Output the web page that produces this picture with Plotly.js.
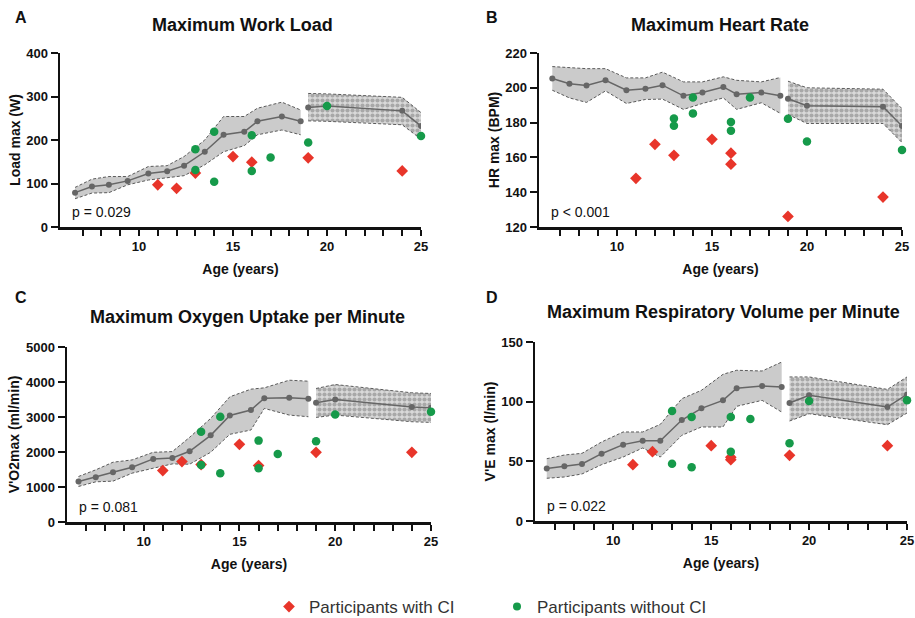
<!DOCTYPE html>
<html>
<head>
<meta charset="utf-8">
<script src="https://cdn.plot.ly/plotly-3.0.1.min.js"></script>
<style>html,body{margin:0;padding:0;background:#fff;}#chart{width:915px;height:618px;}</style>
</head>
<body>
<div id="chart"></div>
<script>
// Reference ages (gray curve)
const ages1 = [6.6, 7.5, 8.4, 9.4, 10.5, 11.5, 12.4, 13.5, 14.5, 15.6, 16.3, 17.6, 18.6];
const ages2 = [19, 20, 24, 25];

// Panel A: Maximum Work Load
const aMean1 = [79, 93, 97, 106, 123, 128, 141, 173, 212, 219, 243, 254, 243];
const aHi1   = [91, 110, 116, 116, 139, 141, 162, 200, 254, 254, 273, 287, 269];
const aLo1   = [65, 78, 79, 97, 108, 114, 118, 143, 173, 187, 212, 223, 212];
const aMean2 = [275, 278, 267, 232];
const aHi2   = [307, 306, 298, 263];
const aLo2   = [244, 243, 235, 202];
const aRedX = [11, 12, 13, 15, 16, 19, 24];
const aRedY = [97, 89, 124, 162, 149, 159, 129];
const aGreenX = [13, 13, 14, 14, 16, 16, 17, 19, 20, 25];
const aGreenY = [179, 131, 219, 104, 211, 129, 160, 194, 278, 209];

// Panel B: Maximum Heart Rate
const bMean1 = [205.3, 202.3, 201.3, 204.3, 198.6, 199.4, 201.5, 195.4, 197.3, 200.5, 196.3, 197.3, 195.4];
const bHi1   = [212.2, 211.4, 211, 211, 205.7, 205.7, 209, 203.4, 203.4, 206.3, 204.3, 203.4, 205.9];
const bLo1   = [198.6, 194.2, 191.6, 198.2, 191, 193.3, 193.5, 187.6, 191, 194.2, 187.6, 191.4, 185.3];
const bMean2 = [193.7, 189.7, 189.1, 178];
const bHi2   = [203.8, 200, 199.2, 188];
const bLo2   = [184.7, 179.5, 179.5, 168.5];
const bRedX = [11, 12, 13, 15, 16, 16, 19, 24];
const bRedY = [148, 167.5, 161.2, 170.4, 162.4, 156.1, 126.1, 137.2];
const bGreenX = [13, 13, 14, 14, 16, 16, 17, 19, 20, 25];
const bGreenY = [182.4, 178.2, 194.4, 185.3, 180.3, 175.3, 194.4, 182.2, 169.2, 164.3];

// Panel C: Maximum Oxygen Uptake per Minute
const cMean1 = [1157, 1281, 1423, 1565, 1803, 1831, 2021, 2476, 3045, 3197, 3539, 3548, 3520];
const cHi1   = [1300, 1490, 1708, 1774, 1992, 2011, 2419, 2960, 3577, 3795, 3833, 4051, 4023];
const cLo1   = [1015, 1148, 1167, 1395, 1537, 1660, 1651, 1992, 2505, 2628, 3245, 3055, 3008];
const cMean2 = [3406, 3501, 3283, 3264];
const cHi2   = [3814, 3928, 3691, 3672];
const cLo2   = [2989, 3055, 2865, 2846];
const cRedX = [11, 12, 13, 15, 16, 19, 24];
const cRedY = [1470, 1727, 1640, 2220, 1613, 1992, 1992];
const cGreenX = [13, 13, 14, 14, 16, 16, 17, 19, 20, 25];
const cGreenY = [2581, 1632, 3008, 1395, 2325, 1537, 1945, 2306, 3074, 3150];

// Panel D: Maximum Respiratory Volume per Minute
const dMean1 = [43.9, 45.8, 47.8, 56.4, 64, 67.3, 67.3, 84.6, 94.4, 101.1, 111.2, 113.1, 112.3];
const dHi1   = [52.2, 55.3, 56.7, 66.2, 74.6, 74.6, 81, 102.5, 109.5, 122.9, 126.3, 125.7, 133.2];
const dLo1   = [35.8, 36.9, 39.4, 47.2, 53.6, 61.2, 53.6, 71.8, 78.8, 78.8, 96.1, 101.1, 91.3];
const dMean2 = [98.9, 105.3, 95.5, 106.1];
const dHi2   = [120.7, 120.7, 110.3, 120.7];
const dLo2   = [83.8, 89.9, 80.7, 90.5];
const dRedX = [11, 12, 15, 16, 16, 19, 24];
const dRedY = [47.2, 58.1, 63.1, 51.4, 53.4, 55, 63.1];
const dGreenX = [13, 13, 14, 14, 16, 16, 17, 19, 20, 25];
const dGreenY = [92.2, 48, 87.2, 45, 87.2, 58.1, 85.5, 65.1, 100.6, 101.1];

const titles = ['Maximum Work Load', 'Maximum Heart Rate', 'Maximum Oxygen Uptake per Minute', 'Maximum Respiratory Volume per Minute'];
const yTitles = ['Load max (W)', 'HR max (BPM)', "V'O2max (ml/min)", "V'E max (l/min)"];
const pTexts = ['p = 0.029', 'p < 0.001', 'p = 0.081', 'p = 0.022'];
const letters = ['A', 'B', 'C', 'D'];
const legendNames = ['Participants with CI', 'Participants without CI'];
const yRanges = [[0, 400], [120, 220], [0, 5000], [0, 150]];
const yDticks = [100, 20, 1000, 50];
const xTickVals = [10, 15, 20, 25];
const xMinorVals = [7, 8, 9, 11, 12, 13, 14, 16, 17, 18, 19, 21, 22, 23, 24];

const panels = [
  {m1: aMean1, h1: aHi1, l1: aLo1, m2: aMean2, h2: aHi2, l2: aLo2, rx: aRedX, ry: aRedY, gx: aGreenX, gy: aGreenY},
  {m1: bMean1, h1: bHi1, l1: bLo1, m2: bMean2, h2: bHi2, l2: bLo2, rx: bRedX, ry: bRedY, gx: bGreenX, gy: bGreenY},
  {m1: cMean1, h1: cHi1, l1: cLo1, m2: cMean2, h2: cHi2, l2: cLo2, rx: cRedX, ry: cRedY, gx: cGreenX, gy: cGreenY},
  {m1: dMean1, h1: dHi1, l1: dLo1, m2: dMean2, h2: dHi2, l2: dLo2, rx: dRedX, ry: dRedY, gx: dGreenX, gy: dGreenY}
];

// layout geometry (pixels)
const W = 915, H = 618;
const boxes = [
  {x0: 60, x1: 421, y0: 53, y1: 227, xl: 5.8},
  {x0: 539, x1: 902, y0: 53, y1: 227, xl: 5.9},
  {x0: 67, x1: 431, y0: 347, y1: 522, xl: 6.0},
  {x0: 535, x1: 907, y0: 342, y1: 521, xl: 6.0}
];
const titlePos = [{x: 242, y: 25}, {x: 720, y: 25}, {x: 248, y: 317}, {x: 723, y: 312}];
const letterPos = [{x: 21, y: 18}, {x: 492, y: 18}, {x: 21, y: 298}, {x: 492, y: 298}];

const FONT = 'Liberation Sans, Arial, Helvetica, sans-serif';
const RED = '#e8352a', GREEN = '#169a4a', GRAYL = '#666666';
const DASH = '3px,2px';

const traces = [];
const layout = {
  width: W, height: H, margin: {l: 0, r: 0, t: 0, b: 0, autoexpand: false},
  paper_bgcolor: '#ffffff', plot_bgcolor: 'rgba(0,0,0,0)',
  font: {family: FONT, color: '#111'},
  showlegend: true,
  legend: {orientation: 'h', x: 269 / W, y: 1 - 607 / H, xanchor: 'left', yanchor: 'middle', traceorder: 'normal',
           font: {family: FONT, size: 17, color: '#333'}, itemwidth: 30, tracegroupgap: 0,
           entrywidth: 183, entrywidthmode: 'pixels', bgcolor: 'rgba(0,0,0,0)'},
  annotations: [], shapes: []
};

panels.forEach((p, i) => {
  const n = i + 1;
  const xa = 'x' + (n === 1 ? '' : n), ya = 'y' + (n === 1 ? '' : n);
  const b = boxes[i];
  // band 1
  traces.push({x: ages1, y: p.l1, xaxis: xa, yaxis: ya, mode: 'lines', showlegend: false, hoverinfo: 'skip',
               line: {color: '#5a5a5a', width: 1, dash: DASH}});
  traces.push({x: ages1, y: p.h1, xaxis: xa, yaxis: ya, mode: 'lines', fill: 'tonexty', fillcolor: '#cbcbcb',
               showlegend: false, hoverinfo: 'skip', line: {color: '#5a5a5a', width: 1, dash: DASH}});
  // band 2 (patterned)
  traces.push({x: ages2, y: p.l2, xaxis: xa, yaxis: ya, mode: 'lines', showlegend: false, hoverinfo: 'skip',
               line: {color: '#5a5a5a', width: 1, dash: DASH}});
  traces.push({x: ages2, y: p.h2, xaxis: xa, yaxis: ya, mode: 'lines', fill: 'tonexty', fillcolor: '#d6d6d6',
               fillpattern: {shape: '.', fgcolor: '#a8a8a8', bgcolor: '#d9d9d9', size: 5, solidity: 0.55},
               showlegend: false, hoverinfo: 'skip', line: {color: '#5a5a5a', width: 1, dash: DASH}});
  // mean lines
  traces.push({x: ages1, y: p.m1, xaxis: xa, yaxis: ya, mode: 'lines+markers', showlegend: false,
               line: {color: GRAYL, width: 1.5}, marker: {color: GRAYL, size: 6}});
  traces.push({x: ages2, y: p.m2, xaxis: xa, yaxis: ya, mode: 'lines+markers', showlegend: false,
               line: {color: GRAYL, width: 1.5}, marker: {color: GRAYL, size: 6}});
  // participants
  traces.push({x: p.rx, y: p.ry, xaxis: xa, yaxis: ya, mode: 'markers', name: legendNames[0],
               showlegend: false, cliponaxis: false,
               marker: {symbol: 'diamond', color: RED, size: 9}});
  traces.push({x: p.gx, y: p.gy, xaxis: xa, yaxis: ya, mode: 'markers', name: legendNames[1],
               showlegend: false, cliponaxis: false,
               marker: {symbol: 'circle', color: GREEN, size: 8.5}});

  const axCommon = {showline: true, linecolor: '#111', linewidth: 2.5, ticks: 'outside',
                    tickwidth: 2, tickcolor: '#111', showgrid: false, zeroline: false, fixedrange: true,
                    automargin: false,
                    tickfont: {family: FONT, size: 13, weight: 'bold', color: '#111'}};
  layout['xaxis' + (n === 1 ? '' : n)] = Object.assign({}, axCommon, {
    domain: [b.x0 / W, b.x1 / W], anchor: ya, range: [b.xl, 25], ticklen: 6,
    tickmode: 'array', tickvals: xTickVals,
    minor: {tickmode: 'array', tickvals: xMinorVals, ticks: 'outside', ticklen: 6, tickwidth: 2, tickcolor: '#111'},
    title: {text: 'Age (years)', font: {family: FONT, size: 14, weight: 'bold', color: '#111'}, standoff: 11}
  });
  layout['yaxis' + (n === 1 ? '' : n)] = Object.assign({}, axCommon, {
    domain: [1 - b.y1 / H, 1 - b.y0 / H], anchor: xa, range: yRanges[i], ticklen: 7,
    tickmode: 'linear', tick0: yRanges[i][0], dtick: yDticks[i],
    title: {text: yTitles[i], font: {family: FONT, size: 14, weight: 'bold', color: '#111'}, standoff: 3}
  });

  layout.annotations.push({text: titles[i], xref: 'paper', yref: 'paper', x: titlePos[i].x / W, y: 1 - titlePos[i].y / H,
    xanchor: 'center', yanchor: 'middle', showarrow: false, font: {family: FONT, size: 18, weight: 'bold', color: '#111'}});
  layout.annotations.push({text: letters[i], xref: 'paper', yref: 'paper', x: letterPos[i].x / W, y: 1 - letterPos[i].y / H,
    xanchor: 'center', yanchor: 'middle', showarrow: false, font: {family: FONT, size: 16, weight: 'bold', color: '#111'}});
  layout.annotations.push({text: pTexts[i], xref: 'paper', yref: 'paper', x: (b.x0 + 10) / W, y: 1 - (b.y1 - 15) / H,
    xanchor: 'left', yanchor: 'middle', showarrow: false, font: {family: FONT, size: 14, color: '#111'}});
});

// legend entries (legend-only, small symbols like the reference)
traces.push({x: [null], y: [null], mode: 'markers', name: legendNames[0], showlegend: true,
             marker: {symbol: 'diamond', color: RED, size: 9}});
traces.push({x: [null], y: [null], mode: 'markers', name: legendNames[1], showlegend: true,
             marker: {symbol: 'circle', color: GREEN, size: 8}});

Plotly.newPlot('chart', traces, layout, {displayModeBar: false, staticPlot: true});
</script>
</body>
</html>
